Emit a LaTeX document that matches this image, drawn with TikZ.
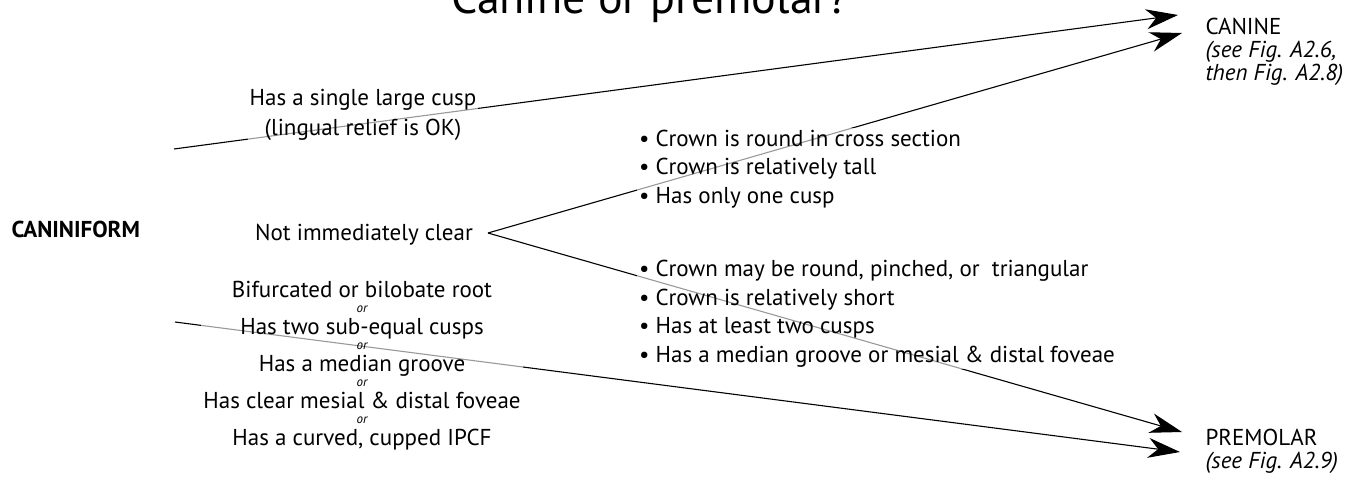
\documentclass[tikz,border=0pt]{standalone}
\usepackage{fontspec}
\setmainfont{PT Sans}
\usetikzlibrary{arrows.meta,backgrounds}

\newcommand{\orword}{{\fontsize{13}{13}\selectfont\itshape or}}

\begin{document}
\begin{tikzpicture}[x=1pt,y=-1pt]
\tikzstyle{txt}=[fill=white,fill opacity=0.6,text opacity=1,inner sep=2pt]
\tikzstyle{body}=[font={\fontsize{23}{28.5}\selectfont}]
\tikzstyle{arrow}=[draw,line width=1.1pt,-{Stealth[length=32pt,width=20pt,inset=10pt]}]

\useasboundingbox (0,0) rectangle (1350,479);

\node[anchor=base,font=\fontsize{46}{46}\selectfont] (title) at (650,13) {Canine or premolar?};

\node[anchor=base west,font=\fontsize{23}{23}\selectfont\bfseries] (cf) at (8,237) {CANINIFORM};
\node[txt,align=center,anchor=base,font={\fontsize{23}{30}\selectfont}] (single) at (363,135)
  {Has a single large cusp\\(lingual relief is OK)};
\node[anchor=base,body] (unclear) at (364,240) {Not immediately clear};
\node[txt,align=center,anchor=base,font={\fontsize{23}{15}\selectfont\lineskiplimit=-50pt}] (alt) at (362,445)
  {Bifurcated or bilobate root\\ \orword\\[7pt]
   Has two sub-equal cusps\\ \orword\\[7pt]
   Has a median groove\\ \orword\\[7pt]
   Has clear mesial \& distal foveae\\ \orword\\[7pt]
   Has a curved, cupped IPCF};

\node[txt,body,align=left,anchor=base west] (tall) at (637,203)
  {• Crown is round in cross section\\
   • Crown is relatively tall\\
   • Has only one cusp};
\node[txt,body,align=left,anchor=base west] (short) at (637,362)
  {• Crown may be round, pinched, or \ triangular\\
   • Crown is relatively short\\
   • Has at least two cusps\\
   • Has a median groove or mesial \& distal foveae};

\node[align=left,anchor=base west,font={\fontsize{23}{23}\selectfont}] (canine) at (1202,80)
  {CANINE\\ \textit{(see Fig. A2.6,}\\ \textit{then Fig. A2.8)}};
\node[align=left,anchor=base west,font={\fontsize{23}{23}\selectfont}] (premolar) at (1202,468)
  {PREMOLAR\\ \textit{(see Fig. A2.9)}};

\coordinate (s1) at (174,149);
\coordinate (s2) at (175,322);
\coordinate (v) at (488,233);
\coordinate (c1) at (1178,15);
\coordinate (c2) at (1182,33);
\coordinate (p1) at (1182,432);
\coordinate (p2) at (1180,452);

\begin{scope}[on background layer]
\path (s1) edge[arrow] (c1);
\path (v) edge[arrow] (c2);
\path (v) edge[arrow] (p1);
\path (s2) edge[arrow] (p2);
\end{scope}

\end{tikzpicture}
\end{document}
